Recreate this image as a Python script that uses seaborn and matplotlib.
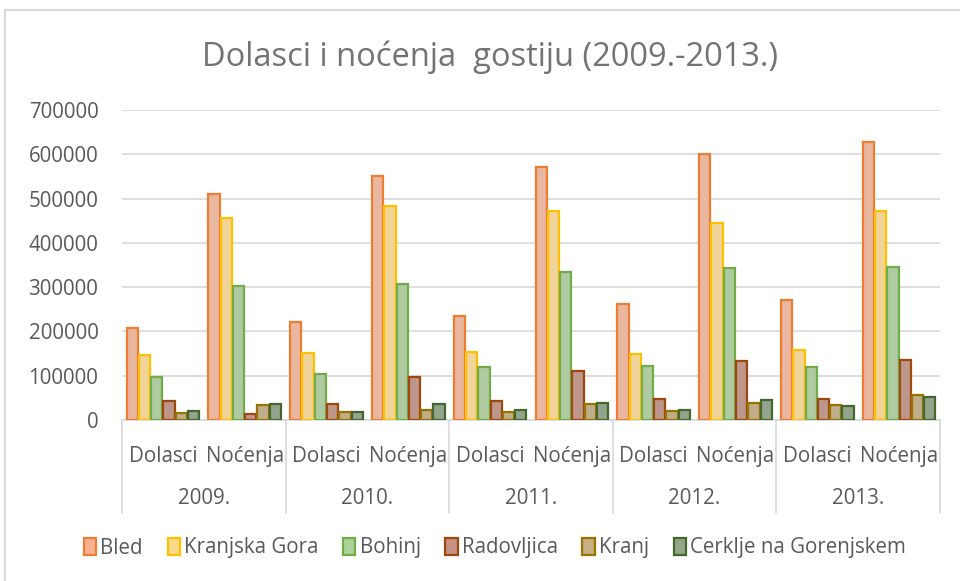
import matplotlib
matplotlib.use("Agg")
import matplotlib.pyplot as plt
from matplotlib.patches import Patch
from matplotlib.lines import Line2D
import seaborn as sns
import pandas as pd

years = ["2009.", "2010.", "2011.", "2012.", "2013."]
measures = ["Dolasci", "Noćenja"]
places = ["Bled", "Kranjska Gora", "Bohinj", "Radovljica", "Kranj", "Cerklje na Gorenjskem"]

bled = [207000, 510000, 221000, 551000, 235000, 571000, 262000, 600000, 270000, 628000]
kranjska_gora = [146000, 455000, 152000, 484000, 154000, 472000, 149000, 444000, 157000, 472000]
bohinj = [97000, 302000, 105000, 307000, 120000, 334000, 122000, 343000, 120000, 345000]
radovljica = [43000, 13000, 36000, 96000, 43000, 111000, 48000, 134000, 48000, 135000]
kranj = [16000, 34000, 19000, 22000, 19000, 36000, 21000, 38000, 33000, 56000]
cerklje = [20000, 36000, 19000, 36000, 22000, 39000, 22000, 45000, 31000, 52000]

y_ticks = [0, 100000, 200000, 300000, 400000, 500000, 600000, 700000]

fills = ["#F6B192", "#FFD98A", "#ADD19A", "#C59284", "#C7B083", "#93A68B"]
edges = ["#ED7D31", "#FFC000", "#70AD47", "#9E480E", "#997300", "#43682B"]

series = [bled, kranjska_gora, bohinj, radovljica, kranj, cerklje]
cats = [f"{y} {m}" for y in years for m in measures]
rows = []
for p, vals in zip(places, series):
    for c, v in zip(cats, vals):
        rows.append({"cat": c, "place": p, "value": v})
df = pd.DataFrame(rows)

sns.set_theme(style="white")
plt.rcParams["font.family"] = ["Open Sans", "DejaVu Sans"]
txt = "#595959"
fs = 14.8

fig = plt.figure(figsize=(9.6, 5.81), dpi=100)
ax = fig.add_axes([122 / 960, 1 - 420 / 581, (940 - 122) / 960, 310 / 581])

sns.barplot(data=df, x="cat", y="value", hue="place", order=cats, hue_order=places,
            palette=fills, width=0.9, gap=0.08, ax=ax, legend=False, zorder=3)
for cont, ec in zip(ax.containers, edges):
    for bar in cont:
        bar.set_edgecolor(ec)
        bar.set_linewidth(1.6)

ax.set_ylim(0, 700000)
ax.set_xlim(-0.5, len(cats) - 0.5)
ax.set_yticks(y_ticks)
ax.set_yticklabels([str(t) for t in y_ticks], fontsize=fs, color=txt)
ax.yaxis.grid(True, color="#D9D9D9", linewidth=1.2, zorder=0)
ax.set_axisbelow(True)
ax.set_xlabel("")
ax.set_ylabel("")
ax.set_xticks(range(len(cats)))
ax.set_xticklabels(measures * len(years), fontsize=fs, color=txt)
ax.tick_params(axis="x", length=0, pad=19)
ax.tick_params(axis="y", length=0, pad=17)
for s in ["top", "right", "left"]:
    ax.spines[s].set_visible(False)
ax.spines["bottom"].set_color("#D9D9D9")
ax.spines["bottom"].set_linewidth(1.2)

# category boxes and year labels
tr = ax.get_xaxis_transform()
for i in range(len(years) + 1):
    xb = i * 2 - 0.5
    ax.add_line(Line2D([xb, xb], [0, -93 / 310], transform=tr, color="#D9D9D9",
                       linewidth=1.2, clip_on=False))
for i, y in enumerate(years):
    ax.text(i * 2 + 0.5, -79 / 310, y, transform=tr, ha="center", va="center",
            fontsize=fs, color=txt)

# title
fig.text(490 / 960, 1 - 57 / 581, "Dolasci i noćenja  gostiju (2009.-2013.)",
         ha="center", va="center", fontsize=23.5, color="#737373")

# legend
handles = [Patch(facecolor=f, edgecolor=e, linewidth=1.6) for f, e in zip(fills, edges)]
fig.legend(handles, places, loc="center", bbox_to_anchor=(495 / 960, 1 - 548 / 581),
           ncol=6, frameon=False, fontsize=fs, labelcolor=txt,
           handlelength=0.6, handleheight=0.85, handletextpad=0.2, columnspacing=1.2)

# chart frame (top and left edges)
fig.add_artist(Line2D([5 / 960, 1], [1 - 10 / 581, 1 - 10 / 581], transform=fig.transFigure,
                      color="#D9D9D9", linewidth=1.5))
fig.add_artist(Line2D([5 / 960, 5 / 960], [0, 1 - 10 / 581], transform=fig.transFigure,
                      color="#D9D9D9", linewidth=1.5))

fig.savefig("out.png", dpi=100, facecolor="white")
